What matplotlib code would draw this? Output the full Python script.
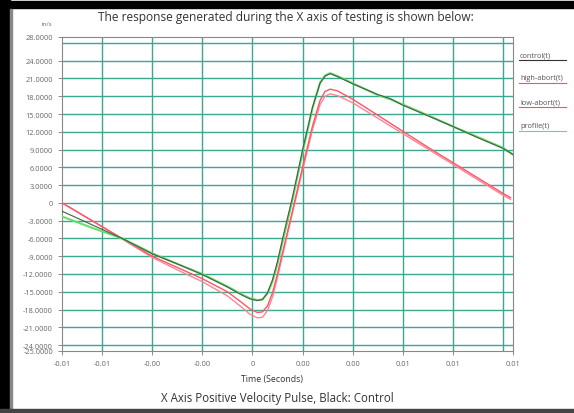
import matplotlib
matplotlib.use('Agg')
from matplotlib import pyplot as plt
from matplotlib.lines import Line2D
from matplotlib.patches import Rectangle

plt.rcParams['font.family'] = ['Open Sans', 'DejaVu Sans']

W, H = 574, 414

# time axis (seconds)
t_ctrl = [-0.0076, -0.0064, -0.0052, -0.004, -0.003, -0.002, -0.001, -0.0004, -0.0001,
          0.0002, 0.0004, 0.0006, 0.0008, 0.001, 0.0012, 0.0016, 0.002, 0.0024,
          0.0027, 0.0029, 0.0031, 0.0034, 0.004, 0.0045, 0.005, 0.0055, 0.006,
          0.007, 0.008, 0.009, 0.010, 0.0104]
control = [-1.4, -3.7, -6.0, -8.6, -10.3, -12.1, -14.2, -15.6, -16.2,
           -16.5, -16.3, -15.2, -13.0, -9.9, -6.1, 1.0, 8.9, 16.2,
           20.2, 21.4, 21.8, 21.3, 20.1, 19.2, 18.3, 17.6, 16.5,
           14.7, 12.9, 11.0, 9.2, 8.2]
profile = [-2.3, -4.2, -6.0, -8.5, -10.3, -12.0, -14.1, -15.5, -16.1,
           -16.4, -16.3, -15.3, -13.3, -10.3, -6.6, 0.5, 8.5, 16.0,
           20.3, 21.5, 21.9, 21.4, 20.2, 19.2, 18.2, 17.5, 16.6,
           14.8, 12.9, 11.1, 9.3, 8.1]

t_red = [-0.0076, -0.0064, -0.0052, -0.004, -0.003, -0.002, -0.001, -0.0004, -0.0001,
         0.0002, 0.0004, 0.0006, 0.0008, 0.001, 0.0012, 0.0016, 0.002, 0.0024,
         0.0027, 0.0029, 0.0031, 0.0034, 0.004, 0.005, 0.006, 0.007, 0.008,
         0.009, 0.010, 0.0103]
high_abort = [0.0, -3.0, -6.0, -9.0, -10.9, -12.8, -15.0, -16.9, -17.9,
              -18.5, -18.4, -17.4, -15.2, -12.0, -8.4, -1.3, 6.0, 13.0,
              17.3, 18.8, 19.2, 18.9, 17.5, 14.8, 12.1, 9.4, 6.8,
              4.2, 1.6, 0.9]
low_abort = [0.0, -3.0, -6.1, -9.2, -11.3, -13.3, -15.7, -17.7, -18.8,
             -19.4, -19.3, -18.2, -15.9, -12.6, -8.9, -1.7, 5.5, 12.4,
             16.6, 18.0, 18.4, 18.1, 16.9, 14.3, 11.7, 9.1, 6.5,
             3.9, 1.3, 0.6]

y_ticks = [28, 24, 21, 18, 15, 12, 9, 6, 3, 0, -3, -6, -9, -12, -15, -18, -21, -24, -25]
y_grid = [27, 24, 21, 18, 15, 12, 9, 6, 3, 0, -3, -6, -9, -12, -15, -18, -21, -24]
x_ticks = [-0.0076, -0.006, -0.004, -0.002, 0.0, 0.002, 0.004, 0.006, 0.008, 0.0104]
x_grid = [-0.006, -0.004, -0.002, 0.0, 0.002, 0.004, 0.006, 0.008, 0.010]

legend_names = ['control(t)', 'high-abort(t)', 'low-abort(t)', 'profile(t)']
legend_cols = ['#333333', '#ff4d62', '#ff4d62', '#5fe35f']

fig = plt.figure(figsize=(W / 100, H / 100), dpi=100)
fig.patch.set_facecolor('white')

def fx(px):
    return px / W

def fy(py):
    return 1 - py / H

ax = fig.add_axes([fx(62), fy(352), fx(513) - fx(62), fy(38) - fy(352)])
ax.set_xlim(-0.0076, 0.0104)
ax.set_ylim(-25, 28)

for g in y_grid:
    ax.axhline(g, color='#3aa890', lw=1.0, zorder=1)
for g in x_grid:
    ax.axvline(g, color='#3aa890', lw=1.0, zorder=1)

ax.plot(t_red, low_abort, color='#ff8595', lw=1.0, zorder=3)
ax.plot(t_red, high_abort, color='#ff5468', lw=1.0, zorder=3)
ax.plot(t_ctrl, profile, color='#63e263', lw=1.5, zorder=3)
ax.plot(t_ctrl, control, color='#4a5a4e', lw=0.8, zorder=4)

ax.set_yticks(y_ticks)
ax.set_yticklabels(['0' if v == 0 else '%.4f' % v for v in y_ticks])
ax.set_xticks(x_ticks)
ax.set_xticklabels(['0' if v == 0 else '%.2f' % v for v in x_ticks])
ax.tick_params(labelsize=5.3, colors='#777777', labelcolor='#666666', length=3, width=0.6)
for s in ax.spines.values():
    s.set_color('#888888')
    s.set_linewidth(0.8)

fig.text(fx(286), fy(17), 'The response generated during the X axis of testing is shown below:',
         ha='center', va='center', fontsize=8.6, color='#333333')
fig.text(fx(47), fy(24), 'in/s', ha='center', va='center', fontsize=4.5, color='#666666')
fig.text(fx(272), fy(380), 'Time (Seconds)', ha='center', va='center', fontsize=6.3, color='#333333')
fig.text(fx(277), fy(399), 'X Axis Positive Velocity Pulse, Black: Control',
         ha='center', va='center', fontsize=8.3, color='#333333')

leg_y = [56, 79, 103, 127]
for name, col, yy in zip(legend_names, legend_cols, leg_y):
    fig.text(fx(520), fy(yy), name, ha='left', va='center', fontsize=5.3, color='#555555')
    fig.add_artist(Line2D([fx(519), fx(566)], [fy(yy + 5), fy(yy + 5)], color=col, lw=0.8))

# picture frame
fig.add_artist(Rectangle((0, fy(9)), 1, fy(2) - fy(9), color='black', transform=fig.transFigure))
fig.add_artist(Rectangle((0, 0), fx(10), 1, color='black', transform=fig.transFigure))
fig.add_artist(Rectangle((fx(10), fy(410)), fx(2), fy(10) - fy(410), color='#888888', transform=fig.transFigure))
fig.add_artist(Rectangle((0, fy(414)), 1, fy(410) - fy(414), color='#444444', transform=fig.transFigure))

fig.savefig('out.png', dpi=100)
